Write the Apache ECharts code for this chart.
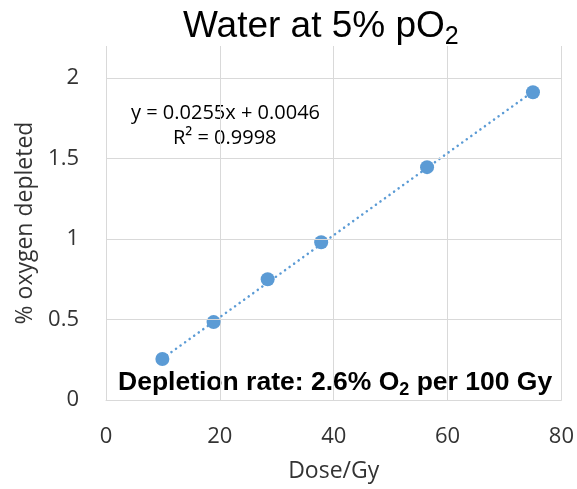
<!DOCTYPE html>
<html>
<head>
<meta charset="utf-8">
<script src="https://cdn.jsdelivr.net/npm/echarts@6/dist/echarts.min.js"></script>
<style>
html,body{margin:0;padding:0;background:#fff;}
#chart{width:577px;height:489px;}
</style>
</head>
<body>
<div id="chart"></div>
<script>
// measured data points (dose in Gy, % oxygen depleted)
var doses = [9.9, 18.9, 28.4, 37.8, 56.4, 75.0];
var depleted = [0.255, 0.484, 0.75, 0.98, 1.447, 1.913];
// trendline ends as drawn (y = 0.0255x + 0.0046)
var trendX = [9.9, 75.0];
var trendY = [0.257, 1.917];
var yTicks = [0.5, 1, 1.5, 2];
var equationText = 'y = 0.0255x + 0.0046';
var r2Text = 'R² = 0.9998';

var blue = '#5b9bd5';
var gridColor = '#d9d9d9';
var labelFont = 'Open Sans';
var labelColor = '#333';

var myChart = echarts.init(document.getElementById('chart'));

var points = doses.map(function (d, i) { return [d, depleted[i]]; });
var trend = trendX.map(function (d, i) { return [d, trendY[i]]; });

var options = {
    animation: false,
    title: {
        text: '{a|Water at 5% pO}{s|2}',
        left: 178,
        top: 0,
        textStyle: {
            fontWeight: 'normal',
            rich: {
                a: { fontFamily: 'Liberation Sans', fontWeight: 'normal', fontSize: 37, color: '#000', lineHeight: 44 },
                s: { fontFamily: 'Liberation Sans', fontWeight: 'normal', fontSize: 25, color: '#000', lineHeight: 44, padding: [20, 0, 0, 0] }
            }
        }
    },
    grid: { left: 106, right: 15, top: 46, bottom: 89 },
    xAxis: {
        type: 'value',
        min: 0, max: 80, interval: 20,
        name: 'Dose/Gy',
        nameLocation: 'middle',
        nameGap: 60,
        nameTextStyle: { fontFamily: labelFont, fontSize: 23, color: labelColor },
        axisLine: { show: true, lineStyle: { color: gridColor, width: 1 } },
        axisTick: { show: false },
        axisLabel: { fontFamily: labelFont, fontSize: 22, color: labelColor, margin: 26 },
        splitLine: { show: true, lineStyle: { color: gridColor, width: 1 } }
    },
    yAxis: {
        type: 'value',
        min: 0, max: 2.2, interval: 0.5,
        name: '% oxygen depleted',
        nameLocation: 'middle',
        nameGap: 61,
        nameTextStyle: { fontFamily: labelFont, fontSize: 23, color: labelColor },
        axisLine: { show: false },
        axisTick: { show: false },
        axisLabel: { fontFamily: labelFont, fontSize: 22, color: labelColor, margin: 27, showMaxLabel: false },
        splitLine: { show: false }
    },
    series: [
        {
            name: 'trend',
            type: 'line',
            data: trend,
            symbol: 'none',
            silent: true,
            lineStyle: { color: blue, width: 2.5, type: [0.1, 5.5], cap: 'round' },
            markLine: {
                silent: true,
                symbol: 'none',
                label: { show: false },
                lineStyle: { color: gridColor, width: 1, type: 'solid' },
                data: yTicks.map(function (t) { return { yAxis: t }; })
            },
            z: 2
        },
        {
            name: 'data',
            type: 'scatter',
            data: points,
            symbol: 'circle',
            symbolSize: 14,
            itemStyle: { color: blue, opacity: 1 },
            z: 3
        }
    ],
    graphic: [
        {
            type: 'text',
            left: 131, top: 103,
            style: { text: equationText, font: '20px "Open Sans"', fill: '#000' }
        },
        {
            type: 'text',
            left: 173, top: 128,
            style: { text: r2Text, font: '20px "Open Sans"', fill: '#000' }
        },
        {
            type: 'text',
            left: 118, top: 367,
            style: {
                text: '{b|Depletion rate: 2.6% O}{bs|2}{b| per 100 Gy}',
                rich: {
                    b: { fontFamily: 'Liberation Sans', fontWeight: 'bold', fontSize: 26.5, fill: '#000', lineHeight: 32 },
                    bs: { fontFamily: 'Liberation Sans', fontWeight: 'bold', fontSize: 18, fill: '#000', lineHeight: 32, padding: [14, 0, 0, 0] }
                }
            }
        }
    ]
};

myChart.setOption(options, true);
</script>
</body>
</html>
